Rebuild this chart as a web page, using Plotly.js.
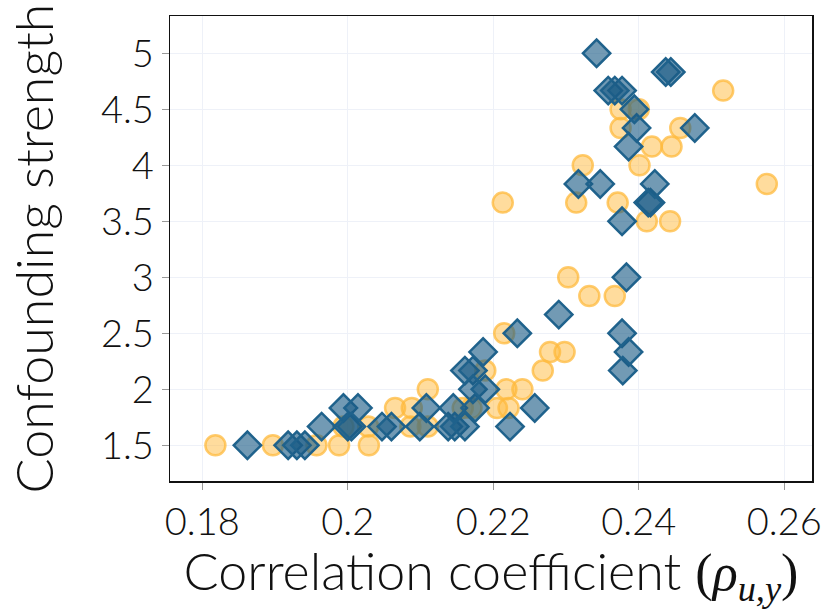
<!DOCTYPE html>
<html>
<head>
<meta charset="utf-8">
<script src="https://cdn.plot.ly/plotly-3.0.1.min.js"></script>
<style>html,body{margin:0;padding:0;background:#fff;}#chart{width:831px;height:609px;}</style>
</head>
<body>
<div id="chart"></div>
<script>
// Orange circles series
const circleX = [0.1818,0.1897,0.1957,0.1988,0.2029,0.1994,0.2028,0.2065,0.2088,0.2086,
  0.2110,0.2110,0.2158,0.2170,0.2189,0.2205,0.2221,0.2218,0.2240,0.2215,
  0.2268,0.2278,0.2298,0.2303,0.2332,0.2367,0.2213,0.2314,0.2371,0.2323,
  0.2401,0.2411,0.2443,0.2418,0.2445,0.2375,0.2457,0.2375,0.2400,0.2516,0.2576];
const circleY = [1.5,1.5,1.5,1.5,1.5,1.667,1.667,1.833,1.833,1.667,
  2.0,1.667,1.833,1.833,2.167,1.833,1.833,2.0,2.0,2.5,
  2.167,2.333,2.333,3.0,2.833,2.833,3.667,3.667,3.667,4.0,
  4.0,3.5,3.5,4.167,4.167,4.333,4.333,4.5,4.5,4.667,3.833];
// Blue diamonds series
const diamondX = [0.1862,0.1918,0.1930,0.1941,0.1964,0.1994,0.2014,0.2000,0.2005,0.2047,
  0.2060,0.2099,0.2108,0.2138,0.2147,0.2161,0.2145,0.2175,0.2161,0.2172,
  0.2172,0.2189,0.2186,0.2223,0.2257,0.2233,0.2290,0.2377,0.2386,0.2378,
  0.2383,0.2377,0.2416,0.2413,0.2317,0.2347,0.2422,0.2386,0.2397,0.2477,
  0.2394,0.2358,0.2377,0.2367,0.2437,0.2444,0.2342];
const diamondY = [1.5,1.5,1.5,1.5,1.667,1.833,1.833,1.667,1.667,1.667,
  1.667,1.667,1.833,1.667,1.667,1.667,1.833,1.833,2.167,2.167,
  2.0,2.0,2.333,1.667,1.833,2.5,2.667,2.5,2.333,2.167,
  3.0,3.5,3.667,3.667,3.833,3.833,3.833,4.167,4.333,4.333,
  4.5,4.667,4.667,4.667,4.833,4.833,5.0];
const xTicks = [0.18,0.2,0.22,0.24,0.26];
const xTickText = ['0.18','0.2','0.22','0.24','0.26'];
const yTicks = [1.5,2,2.5,3,3.5,4,4.5,5];
const yTickText = ['1.5','2','2.5','3','3.5','4','4.5','5'];

const traces = [
  {x: circleX, y: circleY, type:'scatter', mode:'markers', showlegend:false,
   marker:{symbol:'circle', size:20, color:'rgba(255,185,60,0.5)',
           line:{color:'rgba(255,185,60,0.75)', width:2.5}}},
  {x: diamondX, y: diamondY, type:'scatter', mode:'markers', showlegend:false,
   marker:{symbol:'diamond', size:21, color:'rgba(28,92,134,0.62)',
           line:{color:'#1f628c', width:2.5}}}
];
const font = 'Lato, "Open Sans", sans-serif';
const layout = {
  width:831, height:609,
  margin:{l:170, r:19, t:16, b:128},
  paper_bgcolor:'#fff', plot_bgcolor:'#fff',
  font:{family:font, color:'#111', weight:300},
  xaxis:{range:[0.17556,0.26381], tickvals:xTicks, ticktext:xTickText,
    showline:true, linecolor:'#111', linewidth:1.5, mirror:true,
    ticks:'outside', ticklen:7, tickcolor:'#999', tickwidth:1,
    gridcolor:'#eef1f8', gridwidth:1, zeroline:false,
    tickfont:{size:38, family:font, color:'#111', weight:300},
    title:{text:'Correlation coefficient <span style="font-family:\'Liberation Serif\',serif;font-weight:400">(<i>ρ</i><sub><i>u,y</i></sub>)</span>',
      font:{size:52, family:font, color:'#111', weight:300}, standoff:2}},
  yaxis:{range:[1.181,5.333], tickvals:yTicks, ticktext:yTickText,
    showline:true, linecolor:'#111', linewidth:1.5, mirror:true,
    ticks:'outside', ticklen:7, tickcolor:'#999', tickwidth:1,
    gridcolor:'#eef1f8', gridwidth:1, zeroline:false,
    tickfont:{size:38, family:font, color:'#111', weight:300},
    title:{text:'Confounding strength', font:{size:52, family:font, color:'#111', weight:300}, standoff:30}}
};
Plotly.newPlot('chart', traces, layout, {displayModeBar:false, staticPlot:true});
</script>
</body>
</html>
